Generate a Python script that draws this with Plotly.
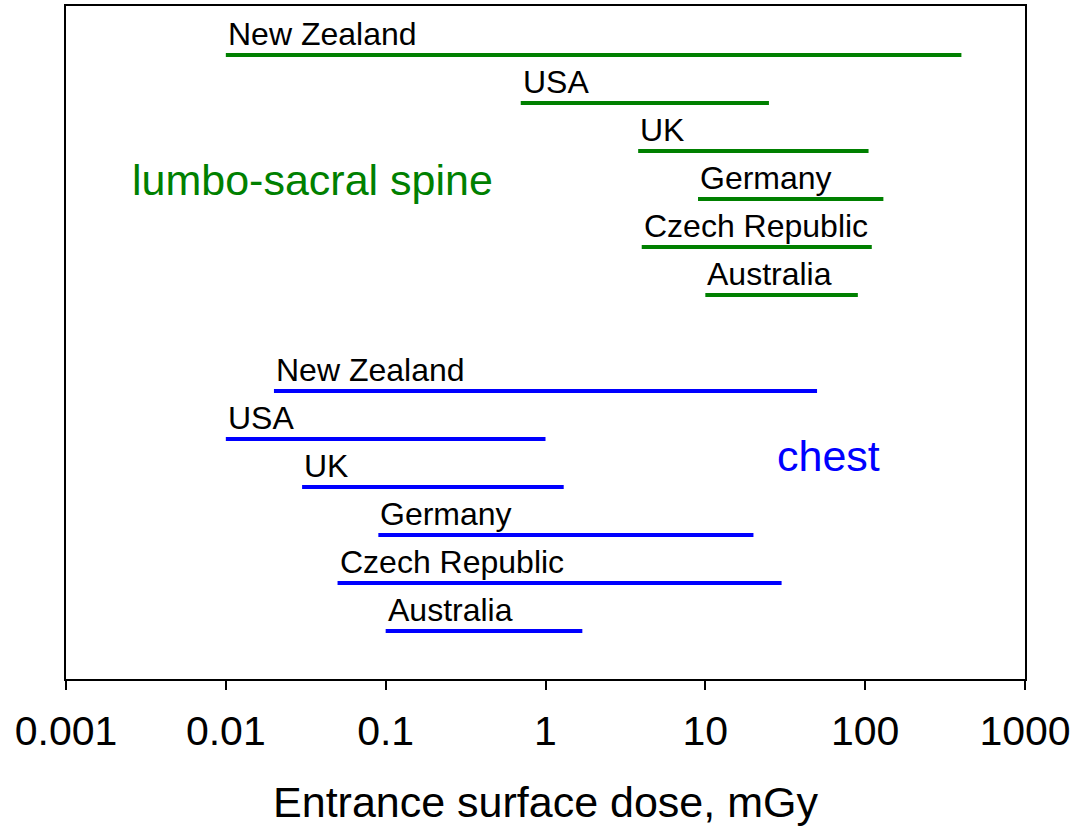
import numpy as np
import plotly.graph_objects as go

countries = ["New Zealand", "USA", "UK", "Germany", "Czech Republic", "Australia"]

# lumbo-sacral spine ESD ranges (mGy)
spine_min = [0.01, 0.7, 3.8, 9, 4, 10]
spine_max = [400, 25, 105, 130, 110, 90]

# chest ESD ranges (mGy)
chest_min = [0.02, 0.01, 0.03, 0.09, 0.05, 0.1]
chest_max = [50, 1, 1.3, 20, 30, 1.7]

tick_vals = [0.001, 0.01, 0.1, 1, 10, 100, 1000]
tick_text = ["0.001", "0.01", "0.1", "1", "10", "100", "1000"]

GREEN = "#008000"
BLUE = "#0000FF"
FONT = "Arial, Liberation Sans, sans-serif"

fig = go.Figure()
annotations = []

groups = [
    (spine_min, spine_max, GREEN, 0),
    (chest_min, chest_max, BLUE, 7),
]
for mins, maxs, color, offset in groups:
    for k, (name, lo, hi) in enumerate(zip(countries, mins, maxs)):
        row = offset + k
        fig.add_trace(go.Scatter(
            x=[lo, hi], y=[row, row], mode="lines",
            line=dict(color=color, width=4), showlegend=False,
            hoverinfo="skip",
        ))
        annotations.append(dict(
            x=np.log10(lo), y=row, xref="x", yref="y",
            text=name, showarrow=False, xanchor="left", yanchor="bottom",
            yshift=1, font=dict(family=FONT, size=32, color="black"),
        ))

annotations.append(dict(
    x=0.067, y=2.6, xref="paper", yref="y", text="lumbo-sacral spine",
    showarrow=False, xanchor="left", yanchor="middle",
    font=dict(family=FONT, size=43, color=GREEN),
))
annotations.append(dict(
    x=0.739, y=8.35, xref="paper", yref="y", text="chest",
    showarrow=False, xanchor="left", yanchor="middle",
    font=dict(family=FONT, size=43, color=BLUE),
))

fig.update_layout(
    width=1078, height=826,
    margin=dict(l=66, r=53, t=6, b=147, autoexpand=False),
    paper_bgcolor="white", plot_bgcolor="white",
    annotations=annotations,
    font=dict(family=FONT, color="black"),
    xaxis=dict(
        type="log", range=[-3, 3], automargin=False,
        tickvals=tick_vals, ticktext=tick_text,
        ticks="outside", ticklen=9, tickwidth=2, tickcolor="black",
        ticklabelstandoff=6,
        showline=True, linecolor="black", linewidth=2, mirror=True,
        showgrid=False, zeroline=False,
        tickfont=dict(family=FONT, size=41, color="black"),
        title=dict(text="Entrance surface dose, mGy", standoff=36,
                   font=dict(family=FONT, size=43, color="black")),
    ),
    yaxis=dict(
        range=[13.0, -1.02], showticklabels=False, ticks="", automargin=False,
        showline=True, linecolor="black", linewidth=2, mirror=True,
        showgrid=False, zeroline=False,
    ),
)

fig.write_html("out.html", config={"displayModeBar": False},
               post_script="document.body.style.margin='0';")
